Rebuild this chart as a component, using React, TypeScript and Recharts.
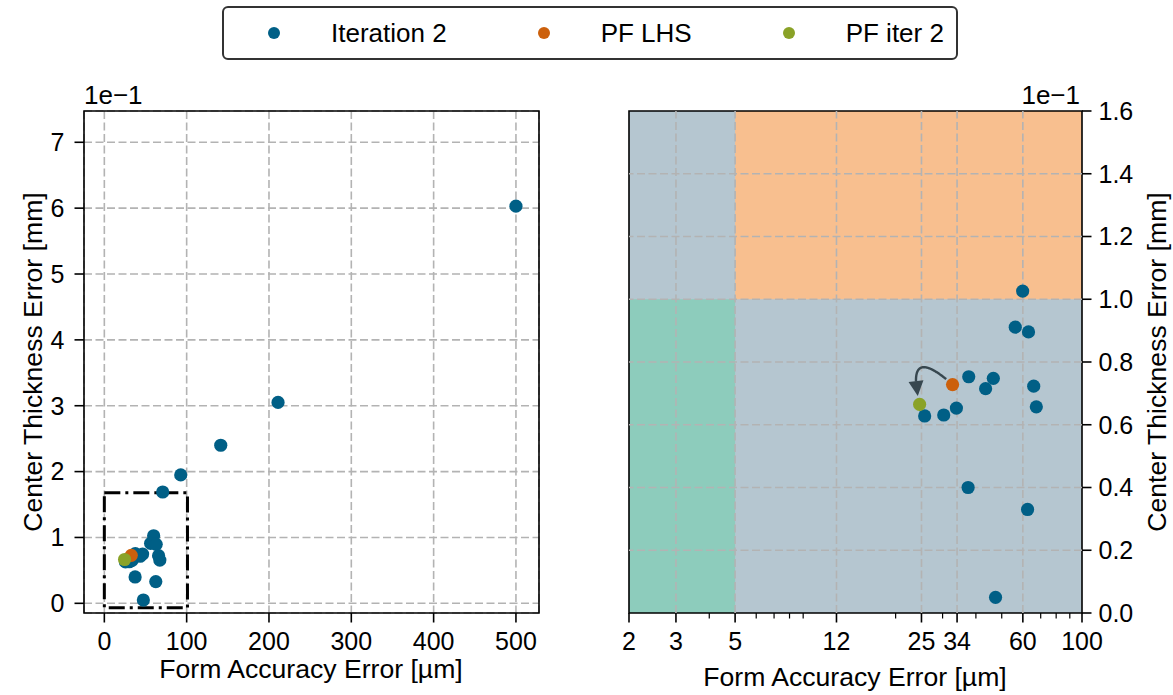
import React from "react";
import {
  ScatterChart,
  Scatter,
  XAxis,
  YAxis,
  CartesianGrid,
  ReferenceArea,
  ReferenceLine,
} from "recharts";

// form accuracy error [µm] and center thickness error [mm]
const ITER2_FORM = [
  59.9, 56.2, 63.0, 37.6, 46.5, 43.5, 65.9, 67.4, 25.7, 30.3, 33.8, 37.4, 62.5,
  47.4, 70.9, 92.8, 141.4, 211, 500,
];
const ITER2_THICK = [
  0.1026, 0.0911, 0.0896, 0.0753, 0.0748, 0.0715, 0.0723, 0.0657, 0.0628,
  0.0631, 0.0653, 0.04, 0.033, 0.005, 0.169, 0.195, 0.24, 0.305, 0.603,
];
const PF_LHS_FORM = [32.7];
const PF_LHS_THICK = [0.0728];
const PF_ITER2_FORM = [24.6];
const PF_ITER2_THICK = [0.0665];

const LEFT_X_TICKS = [0, 100, 200, 300, 400, 500];
const LEFT_Y_TICKS = [0, 0.1, 0.2, 0.3, 0.4, 0.5, 0.6, 0.7];
const RIGHT_X_TICKS = [2, 3, 5, 12, 25, 34, 60, 100];
const RIGHT_X_MINOR = [4, 6, 7, 8, 9, 20, 30, 40, 50, 70, 80, 90];
const RIGHT_Y_TICKS = [0, 0.02, 0.04, 0.06, 0.08, 0.1, 0.12, 0.14, 0.16];

const LEFT_X_DOMAIN = [-24.7, 528];
const LEFT_Y_DOMAIN = [-0.0147, 0.7475];
const RIGHT_X_DOMAIN = [2, 100];
const RIGHT_Y_DOMAIN = [0, 0.16];

// dash-dot box on the overview = area shown in the detail view
const ZOOM_BOX = { x1: 0, x2: 101, y1: -0.0068, y2: 0.168 };
// tolerance limits
const FORM_LIMIT = 5;
const THICK_LIMIT = 0.1;

const SERIES = [
  { name: "Iteration 2", form: ITER2_FORM, thick: ITER2_THICK, color: "#005f86" },
  { name: "PF LHS", form: PF_LHS_FORM, thick: PF_LHS_THICK, color: "#cc600c" },
  { name: "PF iter 2", form: PF_ITER2_FORM, thick: PF_ITER2_THICK, color: "#8aa227" },
];

const FONT = '"Liberation Sans", Arial, sans-serif';
const GRID = { stroke: "#b3b3b3", strokeWidth: 1.6, strokeDasharray: "8 3.5" };
const TICK = { fill: "#000", fontSize: 25 };
const TICK_LINE = { stroke: "#000", strokeWidth: 1.6 };

const rows = (s: (typeof SERIES)[number]) =>
  s.form.map((f, i) => ({ form: f, thick: s.thick[i] }));

const inRight = (d: { form: number; thick: number }) =>
  d.form >= RIGHT_X_DOMAIN[0] &&
  d.form <= RIGHT_X_DOMAIN[1] &&
  d.thick >= RIGHT_Y_DOMAIN[0] &&
  d.thick <= RIGHT_Y_DOMAIN[1];

const dot = (color: string) => (p: any) =>
  <circle cx={p.cx} cy={p.cy} r={6.6} fill={color} />;

function LogTick(props: any) {
  const { x, y, payload } = props;
  const major = RIGHT_X_TICKS.includes(payload.value);
  return (
    <g>
      <line
        x1={x}
        x2={x}
        y1={y}
        y2={y + (major ? 9.5 : 5.5)}
        stroke="#000"
        strokeWidth={major ? 1.6 : 1.2}
      />
      {major && (
        <text x={x} y={y + 19.5} dy="0.71em" textAnchor="middle" fontSize={25} fill="#000">
          {payload.value}
        </text>
      )}
    </g>
  );
}

// curved arrow from the LHS pareto point to the iteration-2 pareto point
function ArcArrow(props: any) {
  const { x1, y1, x2, y2 } = props;
  const bend = 1.6;
  const cx = (x1 + x2) / 2 - (y2 - y1) * bend;
  const cy = (y1 + y2) / 2 + (x2 - x1) * bend;
  const at = (t: number) => ({
    x: (1 - t) * (1 - t) * x1 + 2 * (1 - t) * t * cx + t * t * x2,
    y: (1 - t) * (1 - t) * y1 + 2 * (1 - t) * t * cy + t * t * y2,
  });
  const pts = [];
  for (let i = 0; i <= 200; i++) pts.push(at(i / 200));
  const dist = (a: any, b: any) => Math.hypot(a.x - b.x, a.y - b.y);
  const p0 = { x: x1, y: y1 };
  const p2 = { x: x2, y: y2 };
  let s = 0;
  while (s < pts.length - 1 && dist(pts[s], p0) < 8) s++;
  let e = pts.length - 1;
  while (e > 0 && dist(pts[e], p2) < 8) e--;
  const tip = pts[e];
  let b = e;
  while (b > s && dist(pts[b], tip) < 15) b--;
  const base = pts[b];
  const ux = (tip.x - base.x) / dist(tip, base);
  const uy = (tip.y - base.y) / dist(tip, base);
  const line = pts.slice(s, b + 2).map((p) => `${p.x},${p.y}`).join(" ");
  const head = [
    `${tip.x},${tip.y}`,
    `${base.x - uy * 7.5},${base.y + ux * 7.5}`,
    `${base.x + uy * 7.5},${base.y - ux * 7.5}`,
  ].join(" ");
  return (
    <g>
      <polyline points={line} fill="none" stroke="#37474f" strokeWidth={2.4} />
      <polygon points={head} fill="#37474f" />
    </g>
  );
}

function Overview() {
  return (
    <ScatterChart width={560} height={695} margin={{ top: 111, right: 21, bottom: 0, left: 0 }}>
      <CartesianGrid {...GRID} />
      <XAxis
        type="number"
        dataKey="form"
        domain={LEFT_X_DOMAIN}
        allowDataOverflow
        ticks={LEFT_X_TICKS}
        interval={0}
        height={82}
        tick={TICK}
        tickLine={TICK_LINE}
        tickSize={9.5}
        tickMargin={10}
        axisLine={false}
      />
      <YAxis
        type="number"
        dataKey="thick"
        domain={LEFT_Y_DOMAIN}
        allowDataOverflow
        ticks={LEFT_Y_TICKS}
        interval={0}
        width={84}
        tick={TICK}
        tickLine={TICK_LINE}
        tickSize={9.5}
        tickMargin={10}
        axisLine={false}
        tickFormatter={(v: number) => String(Math.round(v * 10))}
      />
      {SERIES.map((s) => (
        <Scatter
          key={s.name}
          name={s.name}
          data={rows(s)}
          fill={s.color}
          shape={dot(s.color)}
          isAnimationActive={false}
        />
      ))}
      <ReferenceArea
        {...ZOOM_BOX}
        ifOverflow="visible"
        fill="none"
        fillOpacity={0}
        stroke="#000"
        strokeWidth={3}
        strokeDasharray="16 5 3 5"
      />
      <ReferenceArea
        x1={LEFT_X_DOMAIN[0]}
        x2={LEFT_X_DOMAIN[1]}
        y1={LEFT_Y_DOMAIN[0]}
        y2={LEFT_Y_DOMAIN[1]}
        ifOverflow="visible"
        fill="none"
        fillOpacity={0}
        stroke="#000"
        strokeWidth={1.6}
      />
    </ScatterChart>
  );
}

function Detail() {
  const inner = (lo: number, hi: number) => (v: number) => v > lo && v < hi;
  return (
    <ScatterChart width={613} height={695} margin={{ top: 111, right: 0, bottom: 0, left: 69 }}>
      <XAxis
        type="number"
        dataKey="form"
        scale="log"
        domain={RIGHT_X_DOMAIN}
        allowDataOverflow
        ticks={[...RIGHT_X_TICKS, ...RIGHT_X_MINOR].sort((a, b) => a - b)}
        interval={0}
        height={82}
        tick={<LogTick />}
        tickLine={false}
        tickSize={0}
        tickMargin={0}
        axisLine={false}
      />
      <YAxis
        type="number"
        dataKey="thick"
        orientation="right"
        domain={RIGHT_Y_DOMAIN}
        allowDataOverflow
        ticks={RIGHT_Y_TICKS}
        interval={0}
        width={91}
        tick={TICK}
        tickLine={TICK_LINE}
        tickSize={9.5}
        tickMargin={7}
        axisLine={false}
        tickFormatter={(v: number) => (v * 10).toFixed(1)}
      />
      <ReferenceArea
        x1={RIGHT_X_DOMAIN[0]}
        x2={RIGHT_X_DOMAIN[1]}
        y1={RIGHT_Y_DOMAIN[0]}
        y2={RIGHT_Y_DOMAIN[1]}
        ifOverflow="visible"
        fill="#b5c6d0"
        fillOpacity={1}
      />
      <ReferenceArea
        x1={RIGHT_X_DOMAIN[0]}
        x2={FORM_LIMIT}
        y1={RIGHT_Y_DOMAIN[0]}
        y2={THICK_LIMIT}
        ifOverflow="visible"
        fill="#8dccbc"
        fillOpacity={1}
      />
      <ReferenceArea
        x1={FORM_LIMIT}
        x2={RIGHT_X_DOMAIN[1]}
        y1={THICK_LIMIT}
        y2={RIGHT_Y_DOMAIN[1]}
        ifOverflow="visible"
        fill="#f8bf8f"
        fillOpacity={1}
      />
      {RIGHT_X_TICKS.filter(inner(RIGHT_X_DOMAIN[0], RIGHT_X_DOMAIN[1])).map((v) => (
        <ReferenceLine key={"gx" + v} x={v} ifOverflow="visible" {...GRID} />
      ))}
      {RIGHT_Y_TICKS.filter(inner(RIGHT_Y_DOMAIN[0], RIGHT_Y_DOMAIN[1])).map((v) => (
        <ReferenceLine key={"gy" + v} y={v} ifOverflow="visible" {...GRID} />
      ))}
      <ReferenceArea
        x1={RIGHT_X_DOMAIN[0]}
        x2={RIGHT_X_DOMAIN[1]}
        y1={RIGHT_Y_DOMAIN[0]}
        y2={RIGHT_Y_DOMAIN[1]}
        ifOverflow="visible"
        fill="none"
        fillOpacity={0}
        stroke="#000"
        strokeWidth={1.6}
      />
      <ReferenceLine
        segment={[
          { x: PF_LHS_FORM[0], y: PF_LHS_THICK[0] },
          { x: PF_ITER2_FORM[0], y: PF_ITER2_THICK[0] },
        ]}
        ifOverflow="visible"
        shape={ArcArrow}
      />
      {SERIES.map((s) => (
        <Scatter
          key={s.name}
          name={s.name}
          data={rows(s).filter(inRight)}
          fill={s.color}
          shape={dot(s.color)}
          isAnimationActive={false}
        />
      ))}
    </ScatterChart>
  );
}

const abs = (style: React.CSSProperties): React.CSSProperties => ({
  position: "absolute",
  whiteSpace: "nowrap",
  lineHeight: 1,
  ...style,
});

export default function App() {
  return (
    <div
      style={{
        position: "absolute",
        left: 0,
        top: 0,
        width: 1173,
        height: 695,
        background: "#fff",
        fontFamily: FONT,
        color: "#000",
      }}
    >
      <div style={{ position: "absolute", left: 0, top: 0 }}>
        <Overview />
      </div>
      <div style={{ position: "absolute", left: 560, top: 0 }}>
        <Detail />
      </div>

      {/* offset texts */}
      <span style={abs({ left: 84, top: 82, fontSize: 26 })}>1e−1</span>
      <span style={abs({ right: 1173 - 1080, top: 82, fontSize: 26 })}>1e−1</span>

      {/* axis titles */}
      <span style={abs({ left: 311, top: 669, fontSize: 26.6, transform: "translate(-50%, -50%)" })}>
        Form Accuracy Error [µm]
      </span>
      <span style={abs({ left: 855, top: 677, fontSize: 26.6, transform: "translate(-50%, -50%)" })}>
        Form Accuracy Error [µm]
      </span>
      <span
        style={abs({
          left: 33,
          top: 362,
          fontSize: 26.6,
          transform: "translate(-50%, -50%) rotate(-90deg)",
        })}
      >
        Center Thickness Error [mm]
      </span>
      <span
        style={abs({
          left: 1157,
          top: 362,
          fontSize: 26.6,
          transform: "translate(-50%, -50%) rotate(-90deg)",
        })}
      >
        Center Thickness Error [mm]
      </span>

      {/* legend */}
      <div
        style={{
          position: "absolute",
          left: 222,
          top: 6,
          width: 736,
          height: 54,
          border: "2px solid #333",
          borderRadius: 6,
          display: "flex",
          alignItems: "center",
          paddingLeft: 44,
          boxSizing: "border-box",
          fontSize: 26,
        }}
      >
        {SERIES.map((s, i) => (
          <div
            key={s.name}
            style={{ display: "flex", alignItems: "center", marginLeft: i === 0 ? 0 : 91 }}
          >
            <span
              style={{
                display: "inline-block",
                width: 12,
                height: 12,
                borderRadius: 6,
                background: s.color,
              }}
            />
            <span style={{ marginLeft: 51, lineHeight: 1 }}>{s.name}</span>
          </div>
        ))}
      </div>
    </div>
  );
}
